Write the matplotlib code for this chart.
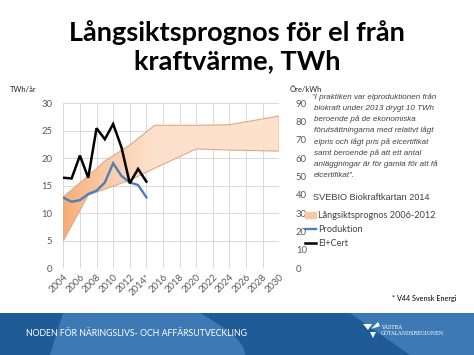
import numpy as np
import matplotlib
matplotlib.use("Agg")
import matplotlib.pyplot as plt
from matplotlib.patches import PathPatch, Patch, Polygon, Rectangle
from matplotlib.lines import Line2D
from matplotlib.colors import to_rgb

# ---------------- data ----------------
hist_years = [2004, 2005, 2006, 2007, 2008, 2009, 2010, 2011, 2012, 2013, 2014]
produktion = [12.85, 12.1, 12.4, 13.5, 14.1, 15.6, 19.1, 16.8, 15.6, 15.15, 12.9]   # TWh
el_cert = [49.4, 49.0, 61.5, 49.4, 76.4, 70.4, 78.7, 66.0, 46.4, 54.2, 47.3]        # öre/kWh

band_years = [2004, 2007, 2009, 2012, 2015, 2020, 2024, 2030]
band_upper = [13.0, 16.8, 19.5, 22.4, 26.0, 26.0, 26.1, 27.7]
band_lower = [5.0, 13.3, 14.4, 16.0, 18.2, 21.7, 21.5, 21.3]

xtick_years = list(range(2004, 2031, 2))
xtick_labels = ["2004", "2006", "2008", "2010", "2012", "2014*", "2016", "2018",
                "2020", "2022", "2024", "2026", "2028", "2030"]
left_ticks = [0, 5, 10, 15, 20, 25, 30]
right_ticks = [0, 10, 20, 30, 40, 50, 60, 70, 80, 90]

quote_lines = [
    "\u201dI praktiken var elproduktionen från",
    "biokraft under 2013 drygt 10 TWh",
    "beroende på de ekonomiska",
    "förutsättningarna med relativt lågt",
    "elpris och lågt pris på elcertifikat",
    "samt beroende på att ett antal",
    "anläggningar är för gamla för att få",
    "elcertifikat\u201d.",
]

# ---------------- figure ----------------
W, H = 474, 355
fig = plt.figure(figsize=(W / 100, H / 100), dpi=100)
fig.patch.set_facecolor("white")

def fx(px):
    return px / W

def fy(py):
    return 1 - py / H

grey = "#595959"
ax = fig.add_axes([fx(63.3), fy(268.3), fx(279.3) - fx(63.3), fy(103.3) - fy(268.3)])
ax.set_facecolor("white")

# band with gradient fill
poly = ax.fill_between(band_years, band_lower, band_upper, facecolor="none",
                       edgecolor="#DDAA86", linewidth=0.8, zorder=3)
path = poly.get_paths()[0]
clip = PathPatch(path, transform=ax.transData, facecolor="none", edgecolor="none")
ax.add_patch(clip)
c0 = np.array(to_rgb("#F5A96F"))
c1 = np.array(to_rgb("#FDE1CD"))
xs = np.linspace(2004, 2030, 300)
t = np.clip((xs - 2004) / 11.0, 0, 1) ** 0.7
grad = (c0[None, :] * (1 - t[:, None]) + c1[None, :] * t[:, None])[None, :, :]
grad = np.repeat(grad, 2, axis=0)
im = ax.imshow(grad, extent=[2004, 2030, 0, 30], aspect="auto", origin="lower",
               zorder=2, interpolation="bilinear")
im.set_clip_path(clip)

ax.plot(hist_years, produktion, color="#4F7DB5", linewidth=1.7, zorder=4,
        solid_joinstyle="miter")

ax.set_xlim(2004, 2030)
ax.set_ylim(0, 30)
ax.set_xticks(xtick_years)
ax.set_xticklabels(xtick_labels, rotation=45, ha="right", rotation_mode="anchor")
ax.set_yticks(left_ticks)
ax.grid(True, color="#D9D9D9", linewidth=0.7, zorder=0)
ax.set_axisbelow(True)
for s in ax.spines.values():
    s.set_visible(False)
ax.tick_params(axis="both", length=0, labelsize=6.8, colors=grey)
ax.tick_params(axis="y", pad=8)
ax.tick_params(axis="x", pad=3)
for lab in ax.get_xticklabels() + ax.get_yticklabels():
    lab.set_fontfamily("Lato")

ax2 = ax.twinx()
ax2.set_ylim(0, 90)
ax2.set_yticks(right_ticks)
ax2.plot(hist_years, el_cert, color="black", linewidth=1.8, zorder=5,
         solid_joinstyle="miter")
for s in ax2.spines.values():
    s.set_visible(False)
ax2.tick_params(axis="y", length=0, labelsize=6.8, colors=grey, pad=12)
for lab in ax2.get_yticklabels():
    lab.set_fontfamily("Lato")

# axis unit labels
fig.text(fx(10), fy(90), "TWh/år", fontsize=5.5, color="#262626", family="Lato",
         va="center", ha="left")
fig.text(fx(290), fy(90), "Öre/kWh", fontsize=5.5, color="#262626", family="Lato",
         va="center", ha="left")

# title
fig.text(0.5, fy(33), "Långsiktsprognos för el från", fontsize=19.5, fontweight="bold",
         family="Lato", ha="center", va="center", color="black")
fig.text(0.5, fy(61), "kraftvärme, TWh", fontsize=19.5, fontweight="bold",
         family="Lato", ha="center", va="center", color="black")

# quote
for i, line in enumerate(quote_lines):
    xpos = 312 if i == 0 else 314
    fig.text(fx(xpos), fy(97 + i * 11.2), line, fontsize=5.8, style="italic",
             family="Liberation Sans", color="#404040", ha="left", va="center")
fig.text(fx(313), fy(197), "SVEBIO Biokraftkartan 2014", fontsize=6.6,
         family="Liberation Sans", color="#404040", ha="left", va="center")

# legend
handles = [Patch(facecolor="#F8C7A4", edgecolor="#F8C7A4"),
           Line2D([], [], color="#4F7DB5", linewidth=1.7),
           Line2D([], [], color="black", linewidth=1.8)]
labels = ["Långsiktsprognos 2006-2012", "Produktion", "El+Cert"]
leg = fig.legend(handles, labels, loc="upper left",
                 bbox_to_anchor=(fx(305), fy(211)), frameon=False,
                 prop={"family": "Lato", "size": 6.6}, labelcolor="#404040",
                 handlelength=1.2, handleheight=0.6, handletextpad=0.2,
                 labelspacing=0.55, borderaxespad=0, borderpad=0)

# footnote
fig.text(fx(456), fy(299), "* V44 Svensk Energi", fontsize=5.2, family="Lato",
         color="black", ha="right", va="center")

# footer band
fax = fig.add_axes([0, 0, 1, fy(313)])
fax.set_xlim(0, W)
fax.set_ylim(355, 313)
fax.axis("off")
fax.add_patch(Rectangle((0, 313), W, 42, facecolor="#3D7AB5", edgecolor="none"))
fax.add_patch(Polygon([(0, 313), (63, 313), (50, 355), (0, 355)],
                      facecolor="#1E5B97", edgecolor="none"))
arc_t = np.linspace(0, 1, 20)
arc = [(200 + 45 * np.sin(a * np.pi / 2), 313 + 42 * a) for a in arc_t]
fax.add_patch(Polygon(arc + [(410, 355), (350, 313)],
                      facecolor="#1E5B97", edgecolor="none"))
fax.text(26, 333.5, "NODEN FÖR NÄRINGSLIVS- OCH AFFÄRSUTVECKLING", fontsize=6.3,
         family="Lato", color="white", ha="left", va="center")
fax.add_patch(Polygon([(363, 324), (372, 324), (368, 330)], facecolor="white",
                      edgecolor="none"))
fax.add_patch(Polygon([(370, 332), (376, 332), (373, 338)], facecolor="white",
                      edgecolor="none"))
fax.add_patch(Polygon([(371, 329), (378, 322), (380, 326)], facecolor="white",
                      edgecolor="none"))
fax.text(381, 328, "VÄSTRA", fontsize=3.6, family="DejaVu Serif", color="white",
         ha="left", va="center")
fax.text(381, 334, "GÖTALANDSREGIONEN", fontsize=3.6, family="DejaVu Serif",
         color="white", ha="left", va="center")

fig.savefig("out.png", dpi=100, facecolor="white")
